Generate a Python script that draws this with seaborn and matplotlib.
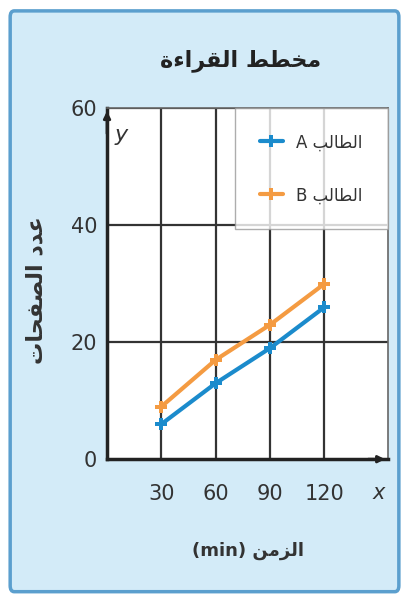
import seaborn as sns
import matplotlib.pyplot as plt
import pandas as pd
from matplotlib.patches import FancyBboxPatch

# data
minutes = [30, 60, 90, 120]
pages_a = [6, 13, 19, 26]
pages_b = [9, 17, 23, 30]
x_ticks = [30, 60, 90, 120]
y_ticks = [0, 20, 40, 60]

title_txt = "مخطط القراءة"
xlabel_txt = "الزمن (min)"
ylabel_txt = "عدد الصفحات"
name_a = "الطالب A"
name_b = "الطالب B"

# small arabic shaper (no arabic_reshaper in the sandbox)
FORMS = {
    "ا": (0xFE8D, 0xFE8E, None, None),
    "ب": (0xFE8F, 0xFE90, 0xFE91, 0xFE92),
    "ة": (0xFE93, 0xFE94, None, None),
    "ت": (0xFE95, 0xFE96, 0xFE97, 0xFE98),
    "ح": (0xFEA1, 0xFEA2, 0xFEA3, 0xFEA4),
    "خ": (0xFEA5, 0xFEA6, 0xFEA7, 0xFEA8),
    "د": (0xFEA9, 0xFEAA, None, None),
    "ر": (0xFEAD, 0xFEAE, None, None),
    "ز": (0xFEAF, 0xFEB0, None, None),
    "ص": (0xFEB9, 0xFEBA, 0xFEBB, 0xFEBC),
    "ط": (0xFEC1, 0xFEC2, 0xFEC3, 0xFEC4),
    "ع": (0xFEC9, 0xFECA, 0xFECB, 0xFECC),
    "ف": (0xFED1, 0xFED2, 0xFED3, 0xFED4),
    "ق": (0xFED5, 0xFED6, 0xFED7, 0xFED8),
    "ل": (0xFEDD, 0xFEDE, 0xFEDF, 0xFEE0),
    "م": (0xFEE1, 0xFEE2, 0xFEE3, 0xFEE4),
    "ن": (0xFEE5, 0xFEE6, 0xFEE7, 0xFEE8),
    "ء": (0xFE80, None, None, None),
}


def dual(c):
    return c in FORMS and FORMS[c][2] is not None


def joins(c):
    return c in FORMS and FORMS[c][1] is not None


def shape_word(w):
    out = []
    for i, c in enumerate(w):
        if c not in FORMS:
            out.append(c)
            continue
        prev = i > 0 and dual(w[i - 1]) and joins(c)
        nxt = i < len(w) - 1 and dual(c) and joins(w[i + 1])
        iso, fin, ini, med = FORMS[c]
        if prev and nxt:
            code = med
        elif prev:
            code = fin
        elif nxt:
            code = ini
        else:
            code = iso
        out.append(chr(code))
    return "".join(out)


def ar(s):
    words = s.split(" ")
    vis = []
    for w in reversed(words):
        if any(c in FORMS for c in w):
            vis.append(shape_word(w)[::-1])
        else:
            vis.append(w)
    return " ".join(vis)


df = pd.DataFrame({
    "minutes": minutes * 2,
    "pages": pages_a + pages_b,
    "student": [ar(name_a)] * 4 + [ar(name_b)] * 4,
})

sns.set_style("white")
plt.rcParams["font.family"] = ["DejaVu Sans"]

bg = "#d3ebf8"
fig = plt.figure(figsize=(4.07, 6.05), dpi=100)
fig.patch.set_facecolor("white")
frame = FancyBboxPatch((0.025, 0.022), 0.955, 0.96, boxstyle="round,pad=0,rounding_size=0.01",
                       transform=fig.transFigure, facecolor=bg, edgecolor="#5b9fce",
                       linewidth=2.5, zorder=-10)
fig.patches.append(frame)

ax = fig.add_axes([0.263, 0.241, 0.69, 0.58])
ax.set_facecolor("white")

sns.lineplot(data=df, x="minutes", y="pages", hue="student",
             palette=["#1b8bcc", "#f49b42"], marker="P", markersize=9,
             markeredgewidth=0, linewidth=3, ax=ax)

ax.set_xlim(0, 155)
ax.set_ylim(0, 60)
ax.set_xticks(x_ticks)
ax.set_yticks(y_ticks)
for v in x_ticks:
    ax.axvline(v, color="#333333", linewidth=1.6, zorder=0)
for v in y_ticks[1:]:
    ax.axhline(v, color="#333333", linewidth=1.6, zorder=0)

for side in ["top", "right"]:
    ax.spines[side].set_color("#666666")
    ax.spines[side].set_linewidth(1.2)
for side in ["left", "bottom"]:
    ax.spines[side].set_color("#222222")
    ax.spines[side].set_linewidth(2.5)

ax.annotate("", xy=(0, 1.0), xytext=(0, 0.92), xycoords="axes fraction",
            arrowprops=dict(arrowstyle="-|>", color="#222222", lw=2))
ax.annotate("", xy=(1.0, 0), xytext=(0.92, 0), xycoords="axes fraction",
            arrowprops=dict(arrowstyle="-|>", color="#222222", lw=2))

ax.tick_params(axis="both", length=0, labelsize=15, labelcolor="#333333")
ax.tick_params(axis="x", pad=18)
ax.tick_params(axis="y", pad=7)
ax.set_xlabel("")
ax.set_ylabel("")
ax.text(150, -5.8, "x", fontsize=15, style="italic", color="#333333", ha="center", va="center")
ax.text(8, 55.5, "y", fontsize=16, style="italic", color="#333333", ha="center", va="center")

fig.text(0.59, 0.9, ar(title_txt), fontsize=16, fontweight="bold", ha="center", va="center", color="#222222")
fig.text(0.61, 0.09, ar(xlabel_txt), fontsize=13, fontweight="bold", ha="center", va="center", color="#333333")
fig.text(0.09, 0.52, ar(ylabel_txt), fontsize=16, fontweight="bold", rotation=90,
         ha="center", va="center", color="#333333")

leg = ax.legend(loc="upper right", fontsize=12, frameon=True, fancybox=False,
                borderaxespad=0, handlelength=1.4, labelspacing=2.1,
                borderpad=1.5, handletextpad=0.8)
leg.get_frame().set_edgecolor("#999999")
leg.get_frame().set_linewidth(1)
for t in leg.get_texts():
    t.set_color("#333333")

fig.savefig("out.png", dpi=100, facecolor=fig.get_facecolor())
